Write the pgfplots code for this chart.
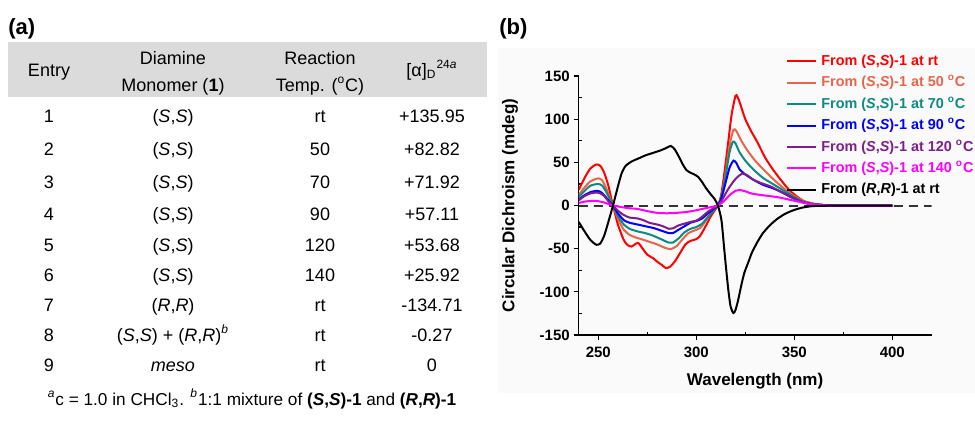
\documentclass[border=0pt]{standalone}
\usepackage{fontspec}
\setmainfont{Liberation Sans}
\usepackage{pgfplots}
\pgfplotsset{compat=1.18}

\definecolor{cRT}{HTML}{FF0000}
\definecolor{cF}{HTML}{E8644A}
\definecolor{cS}{HTML}{0F8A82}
\definecolor{cN}{HTML}{0000FF}
\definecolor{cOT}{HTML}{7E1E8C}
\definecolor{cOF}{HTML}{FF00FF}

\newcommand{\ssP}{(\textit{S},\textit{S})}
\newcommand{\rrP}{(\textit{R},\textit{R})}

\begin{document}
\begin{tikzpicture}
\useasboundingbox (0,0) rectangle (487.5pt,-214pt);

% ---- panel (a): table, coordinates in pixels ----
\begin{scope}[x=0.5pt,y=-0.5pt,every node/.style={font=\fontsize{9}{11}\selectfont,anchor=base,inner sep=0pt}]
\fill[black!14] (8,42) rectangle (487,97);
\fill[black!2] (498,48) rectangle (975,393);
\node[anchor=base west,font=\bfseries\fontsize{11}{13}\selectfont] at (8,34.5) {(a)};
\node[anchor=base west,font=\bfseries\fontsize{11}{13}\selectfont] at (499,34.5) {(b)};
% header
\node at (49,76.5) {Entry};
\node at (173,64.5) {Diamine};
\node at (173,91.5) {Monomer (\textbf{1})};
\node at (320,64.5) {Reaction};
\node at (320,91.5) {Temp. (\textsuperscript{o}C)};
\node at (432,76.5) {[α]\textsubscript{D}\textsuperscript{24\textit{a}}};
% rows
\node at (49,122.5) {1}; \node at (173,122.5) {\ssP}; \node at (320,122.5) {rt};  \node at (432,122.5) {+135.95};
\node at (49,155.5) {2}; \node at (173,155.5) {\ssP}; \node at (320,155.5) {50};  \node at (432,155.5) {+82.82};
\node at (49,188.5) {3}; \node at (173,188.5) {\ssP}; \node at (320,188.5) {70};  \node at (432,188.5) {+71.92};
\node at (49,220.5) {4}; \node at (173,220.5) {\ssP}; \node at (320,220.5) {90};  \node at (432,220.5) {+57.11};
\node at (49,251.5) {5}; \node at (173,251.5) {\ssP}; \node at (320,251.5) {120}; \node at (432,251.5) {+53.68};
\node at (49,281.5) {6}; \node at (173,281.5) {\ssP}; \node at (320,281.5) {140}; \node at (432,281.5) {+25.92};
\node at (49,311.5) {7}; \node at (173,311.5) {\rrP}; \node at (320,311.5) {rt};  \node at (432,311.5) {-134.71};
\node at (49,341.5) {8}; \node at (173,341.5) {\ssP{} + \rrP\textsuperscript{\textit{b}}}; \node at (320,341.5) {rt}; \node at (432,341.5) {-0.27};
\node at (49,371.5) {9}; \node at (173,371.5) {\textit{meso}}; \node at (320,371.5) {rt}; \node at (432,371.5) {0};
% footnote
\node[font=\fontsize{8.6}{10}\selectfont] at (252,405.5) {\textsuperscript{\textit{a}}c = 1.0 in CHCl\textsubscript{3}. \textsuperscript{\textit{b}}1:1 mixture of \textbf{\ssP-1} and \textbf{\rrP-1}};
\end{scope}

% ---- panel (b): CD spectra ----
\begin{axis}[
    at={(289.35pt,-167.5pt)}, anchor=south west,
    scale only axis, width=176.4pt, height=129.5pt,
    xmin=240, xmax=420, ymin=-150, ymax=150,
    axis lines=left,
    axis line style={line width=0.75pt,-},
    xtick={250,300,350,400}, xticklabels={250,300,350,400},
    ytick={-150,-100,-50,0,50,100,150},
    yticklabels={-150,-100,-50,0,50,100,150},
    minor x tick num=1, minor y tick num=1,
    tick align=outside,
    major tick length=2.5pt, minor tick length=-1.5pt,
    tick style={line width=0.6pt,black},
    ticklabel style={font=\bfseries\fontsize{7.5}{9}\selectfont},
    yticklabel style={inner sep=1.8pt},
    xlabel={Wavelength (nm)},
    ylabel={Circular Dichroism (mdeg)},
    label style={font=\bfseries\fontsize{8.5}{10}\selectfont},
    xlabel style={at={(axis description cs:0.5,-0.18)},anchor=center},
    ylabel style={at={(axis description cs:-0.195,0.5)},anchor=center},
    legend style={at={(axis description cs:0.5876,1.084)},anchor=north west,
        draw=none,fill=none,inner sep=0pt,
        font=\bfseries\fontsize{7.2}{8.5}\selectfont,
        row sep=3.9pt,
        nodes={inner sep=0pt,text height=5.4pt,text depth=1.4pt},
        /tikz/every odd column/.append style={column sep=2pt}},
    legend cell align=left,
    legend image code/.code={\draw[#1] (0pt,0pt) -- (14.5pt,0pt);},
    every axis plot/.append style={line width=1pt,smooth,tension=0.4},
]

% zero line
\addplot[black!80,line width=1pt,dash pattern=on 4.5pt off 3pt,forget plot] coordinates {(240,0) (420,0)};

% (S,S)-1 at rt
\addplot[cRT] coordinates {
(240,18) (243,32) (246,43) (249,47.5) (251,46) (253,38) (255,24) (257.5,0)
(260,-22) (263,-40) (265,-46) (267,-47.5) (269,-44.5) (270.5,-43.5) (272,-48)
(275,-57) (278,-61) (280,-65) (282.5,-69) (284.5,-72.5) (286.5,-71) (289,-65)
(292,-54) (294.5,-45) (297,-41) (300,-39) (302,-35) (305,-23) (307.5,-12) (311,0)
(312.5,10) (314,32) (316,68) (318,105) (320,127) (321,126) (322.5,117) (325,100)
(328,86) (331,74) (335,56) (339,42) (343,30) (347,19) (351,11) (355,5) (360,2)
(365,0.5) (370,0) (400,0)};
\addlegendentry{\textcolor{cRT}{From \ssP-1 at rt}}

% 50 C
\addplot[cF] coordinates {
(240,12) (243,21) (246,28) (250,31.5) (252,29) (254,20) (256,9) (257.5,0)
(260,-15) (263,-28) (266,-34) (269,-37) (272,-39) (276,-42) (280,-45) (284,-49)
(287,-50.5) (290,-47) (293,-39) (296,-32) (299,-29) (302,-26) (305,-17) (308,-7)
(311,0) (313,12) (315,38) (317,70) (319,88) (320.5,86) (323,75) (326,64) (330,52)
(335,40) (340,29) (345,19) (350,11) (355,5) (360,2) (365,0.5) (370,0) (400,0)};
\addlegendentry{\textcolor{cF}{From \ssP-1 at 50 \textsuperscript{o}C}}

% 70 C
\addplot[cS] coordinates {
(240,10) (243,17) (246,23) (250,25) (252,23) (254,16) (256,7) (257.5,0)
(260,-12) (263,-22) (266,-27) (270,-30) (274,-32) (278,-35) (282,-39) (286,-43)
(288,-43) (291,-38) (294,-31) (297,-27) (300,-25) (303,-21) (306,-13) (311,0)
(313,12) (315,35) (317,62) (318.7,74) (320,72) (322,62) (325,52) (329,42) (334,32)
(339,25) (344,18) (349,11) (354,5) (359,2) (365,0.5) (370,0) (400,0)};
\addlegendentry{\textcolor{cS}{From \ssP-1 at 70 \textsuperscript{o}C}}

% 90 C
\addplot[cN] coordinates {
(240,7) (243,12) (246,15.5) (249,17) (251,16) (253,12) (255.5,5) (257.5,0)
(260,-9) (263,-17) (266,-20) (270,-22) (274,-24) (278,-26) (282,-29) (286,-32)
(288,-32) (291,-28) (294,-24) (297,-20) (300,-18) (303,-15) (306,-9) (311,0)
(313,10) (315,27) (317,44) (319,52) (320.5,49) (322,42) (325,36) (329,30) (334,24)
(339,20) (344,15) (349,9) (354,4) (359,1.5) (365,0.5) (370,0) (400,0)};
\addlegendentry{\textcolor{cN}{From \ssP-1 at 90 \textsuperscript{o}C}}

% 120 C
\addplot[cOT] coordinates {
(240,6) (243,11) (246,14) (249,15) (251,14) (253,11) (255.5,4) (257.5,0)
(260,-6) (263,-11) (266,-14) (270,-15) (273,-17) (276,-20) (280,-22) (283,-24)
(286,-27) (288,-26.5) (291,-23) (294,-21) (297,-19) (300,-17.5) (303,-13) (306,-7)
(311,0) (313,6) (316,18) (319,28) (321,33) (323.5,37) (326,35) (329,30) (333,26)
(338,22) (343,16) (348,10) (353,5) (358,2) (365,0.5) (370,0) (400,0)};
\addlegendentry{\textcolor{cOT}{From \ssP-1 at 120 \textsuperscript{o}C}}

% 140 C
\addplot[cOF] coordinates {
(240,3) (243,4.5) (247,5.5) (250,5) (253,3.5) (255.5,1.5) (257.5,0) (261,-1.5)
(265,-3) (270,-4) (275,-6.5) (280,-8.5) (285,-9) (290,-8.5) (295,-7.5) (300,-5.5)
(305,-3) (311,0) (314,5) (317,12) (320,17) (322,18) (325,16.5) (328,14) (332,12.5)
(337,11) (342,9.5) (347,7) (352,4.5) (357,2) (362,0.7) (368,0) (400,0)};
\addlegendentry{\textcolor{cOF}{From \ssP-1 at 140 \textsuperscript{o}C}}

% (R,R)-1 at rt
\addplot[black] coordinates {
(240,-19) (243,-30) (246,-40) (249,-45.5) (251,-44) (253,-35) (255,-20) (257.5,0)
(260,22) (262,38) (264,46) (267,51) (270,54) (274,58) (278,61) (282,64) (285,67)
(287,69) (289,65) (291,57) (293,48) (295,41) (297,38) (299,36) (301,33) (303,27)
(305,20) (307,14) (309.5,7) (311,0) (312,-8) (313,-20) (314.6,-59) (316.3,-97)
(317.5,-117) (318.9,-124.5) (320,-121) (321.4,-109) (323,-92) (324.5,-78)
(326.5,-66) (328.3,-55) (331,-43) (334,-32) (337.5,-23) (341,-16) (345,-10)
(349.5,-5.5) (354,-2.5) (358,-1) (365,-0.3) (400,0)};
\addlegendentry{From \rrP-1 at rt}

\end{axis}
\end{tikzpicture}
\end{document}
